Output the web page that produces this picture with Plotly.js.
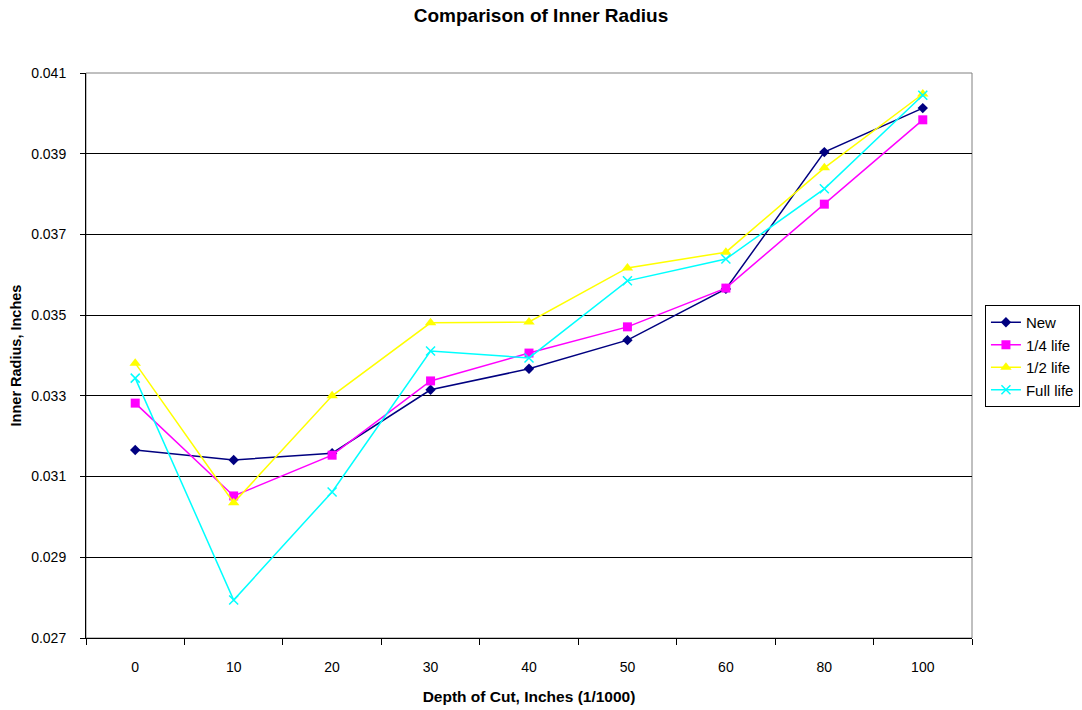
<!DOCTYPE html>
<html>
<head>
<meta charset="utf-8">
<script src="https://cdn.plot.ly/plotly-3.0.1.min.js"></script>
<style>html,body{margin:0;padding:0;background:#fff;}#chart{width:1082px;height:710px;}</style>
</head>
<body>
<div id="chart"></div>
<script>
const categories = ["0","10","20","30","40","50","60","80","100"];
const seriesNames = ["New","1/4 life","1/2 life","Full life"];
const valuesNew = [0.03166,0.03141,0.03158,0.03315,0.03367,0.03438,0.03565,0.03904,0.04013];
const valuesQuarter = [0.03282,0.03052,0.03153,0.03337,0.03406,0.03471,0.03567,0.03775,0.03984];
const valuesHalf = [0.03381,0.03035,0.03300,0.03481,0.03483,0.03617,0.03656,0.03865,0.04048];
const valuesFull = [0.03344,0.02794,0.03062,0.03411,0.03394,0.03585,0.03639,0.03813,0.04045];
const yTicks = [0.027,0.029,0.031,0.033,0.035,0.037,0.039,0.041];

const styles = [
  {color:"#000080", symbol:"diamond", size:8},
  {color:"#FF00FF", symbol:"square", size:9},
  {color:"#FFFF00", symbol:"triangle-up", size:10},
  {color:"#00FFFF", symbol:"x-thin", size:9}
];
const allValues = [valuesNew, valuesQuarter, valuesHalf, valuesFull];
const traces = allValues.map((v,i)=>({
  type:"scatter", mode:"lines+markers", name:seriesNames[i],
  x:categories, y:v,
  line:{color:styles[i].color, width:1.5},
  marker:{color:styles[i].color, symbol:styles[i].symbol, size:styles[i].size,
          line:{color:styles[i].color, width: styles[i].symbol==="x-thin"?1.5:0}}
}));

const font = "Liberation Sans, Arial, sans-serif";
const layout = {
  width:1082, height:710,
  margin:{l:86, r:110, t:73, b:72},
  paper_bgcolor:"#fff", plot_bgcolor:"#fff",
  font:{family:font, size:14, color:"#000"},
  title:{text:"<b>Comparison of Inner Radius</b>", font:{family:font, size:19, color:"#000"}, x:0.5, xanchor:"center", y:0.979, yanchor:"middle"},
  xaxis:{
    type:"category", categoryorder:"array", categoryarray:categories,
    showgrid:false, zeroline:false,
    showline:true, linecolor:"#000", linewidth:1,
    ticks:"outside", tickson:"boundaries", ticklen:6, tickcolor:"#000",
    ticklabelstandoff:16,
    tickfont:{family:font, size:14, color:"#000"},
    title:{text:"<b>Depth of Cut, Inches (1/1000)</b>", font:{family:font, size:15.5, color:"#000"}, standoff:17},
    range:[-0.5,8.5], automargin:false
  },
  yaxis:{
    range:[0.027,0.041], tickvals:yTicks, ticktext:yTicks.map(t=>t.toFixed(3)),
    showgrid:true, gridcolor:"#000", gridwidth:1, zeroline:false,
    showline:true, linecolor:"#000", linewidth:1,
    ticks:"outside", ticklen:5, tickcolor:"#000",
    ticklabelstandoff:11,
    tickfont:{family:font, size:14, color:"#000"},
    title:{text:"<b>Inner Radius, Inches</b>", font:{family:font, size:14.5, color:"#000"}, standoff:6},
    automargin:false
  },
  shapes:[{type:"rect", xref:"paper", yref:"paper", x0:0, x1:1, y0:0, y1:1, line:{color:"#808080", width:1}, layer:"below"}],
  legend:{xref:"container", yref:"container", x:0.9103, xanchor:"left", y:0.5704, yanchor:"top",
          bordercolor:"#000", borderwidth:1, bgcolor:"#fff",
          font:{family:font, size:15, color:"#000"}, tracegroupgap:0, itemwidth:30},
  showlegend:true
};
Plotly.newPlot("chart", traces, layout, {displayModeBar:false, staticPlot:true});
</script>
</body>
</html>
